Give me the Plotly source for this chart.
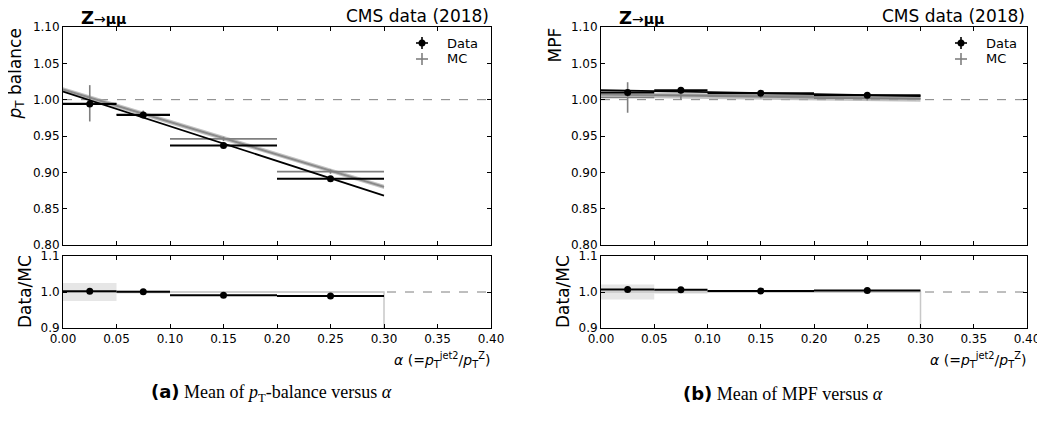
import plotly.graph_objects as go

# ---------------- data ----------------
bin_centers = [0.025, 0.075, 0.15, 0.25]
bin_halfwidths = [0.025, 0.025, 0.05, 0.05]
fit_x = [0.0, 0.3]

# pT balance panel
data_pt = [0.994, 0.979, 0.937, 0.891]
data_pt_err = [0.003, 0.002, 0.002, 0.002]
mc_pt = [0.995, 0.980, 0.946, 0.901]
mc_pt_err = [0.025, 0.005, 0.003, 0.003]
data_pt_fit = [1.011, 0.868]
mc_pt_fit = [1.014, 0.880]
mc_pt_fit_unc = [0.003, 0.003]
ratio_pt = [1.002, 1.001, 0.991, 0.989]
ratio_pt_err = [0.002, 0.002, 0.001, 0.001]
ratio_pt_band = [0.025, 0.005, 0.002, 0.002]

# MPF panel
data_mpf = [1.010, 1.013, 1.009, 1.006]
data_mpf_err = [0.002, 0.002, 0.001, 0.001]
mc_mpf = [1.003, 1.006, 1.005, 1.002]
mc_mpf_err = [0.021, 0.006, 0.003, 0.003]
data_mpf_fit = [1.013, 1.005]
mc_mpf_fit = [1.007, 1.001]
mc_mpf_fit_unc = [0.004, 0.004]
ratio_mpf = [1.007, 1.006, 1.003, 1.004]
ratio_mpf_err = [0.002, 0.002, 0.001, 0.001]
ratio_mpf_band = [0.021, 0.005, 0.002, 0.002]

x_ticks = [0.0, 0.05, 0.10, 0.15, 0.20, 0.25, 0.30, 0.35, 0.40]
y_ticks_top = [0.80, 0.85, 0.90, 0.95, 1.00, 1.05, 1.10]
y_ticks_ratio = [0.9, 1.0, 1.1]

# ---------------- layout helpers ----------------
# the page body has an 8px margin, so the figure is drawn 8px in from the window corner
OFF = 8
W, H = 1045 - OFF, 431 - OFF
def px(x):
    return (x - OFF) / W
def py(y):
    return 1 - (y - OFF) / H

FONT = "DejaVu Sans"
BLACK = "#000000"
GRAY = "#7f7f7f"

fig = go.Figure()

panels = [
    dict(ax="", rax="2", data=data_pt, derr=data_pt_err, mc=mc_pt, mcerr=mc_pt_err,
         dfit=data_pt_fit, mfit=mc_pt_fit, munc=mc_pt_fit_unc,
         ratio=ratio_pt, rerr=ratio_pt_err, band=ratio_pt_band),
    dict(ax="3", rax="4", data=data_mpf, derr=data_mpf_err, mc=mc_mpf, mcerr=mc_mpf_err,
         dfit=data_mpf_fit, mfit=mc_mpf_fit, munc=mc_mpf_fit_unc,
         ratio=ratio_mpf, rerr=ratio_mpf_err, band=ratio_mpf_band),
]

for p in panels:
    xa, ya = "x" + p["ax"], "y" + p["ax"]
    xr, yr = "x" + p["rax"], "y" + p["rax"]
    # MC fit band
    bx = fit_x + fit_x[::-1]
    by = [f + u for f, u in zip(p["mfit"], p["munc"])] + \
         [f - u for f, u in zip(p["mfit"][::-1], p["munc"][::-1])]
    fig.add_trace(go.Scatter(x=bx, y=by, fill="toself", fillcolor="rgba(170,170,170,0.7)",
                             line=dict(width=0), mode="lines", xaxis=xa, yaxis=ya,
                             showlegend=False, hoverinfo="skip"))
    fig.add_trace(go.Scatter(x=fit_x, y=p["mfit"], mode="lines",
                             line=dict(color="#8a8a8a", width=2),
                             xaxis=xa, yaxis=ya, showlegend=False))
    # MC points (error bars only)
    fig.add_trace(go.Scatter(x=bin_centers, y=p["mc"], mode="markers",
                             marker=dict(size=1, color="rgba(0,0,0,0)"),
                             error_x=dict(type="data", array=bin_halfwidths, color=GRAY,
                                          thickness=1.6, width=0),
                             error_y=dict(type="data", array=p["mcerr"], color=GRAY,
                                          thickness=1.6, width=0),
                             xaxis=xa, yaxis=ya, showlegend=False))
    # Data fit
    fig.add_trace(go.Scatter(x=fit_x, y=p["dfit"], mode="lines",
                             line=dict(color=BLACK, width=1.8),
                             xaxis=xa, yaxis=ya, showlegend=False))
    # Data points
    fig.add_trace(go.Scatter(x=bin_centers, y=p["data"], mode="markers",
                             marker=dict(size=7, color=BLACK),
                             error_x=dict(type="data", array=bin_halfwidths, color=BLACK,
                                          thickness=2, width=0),
                             error_y=dict(type="data", array=p["derr"], color=BLACK,
                                          thickness=2, width=0),
                             xaxis=xa, yaxis=ya, showlegend=False))
    # Ratio: MC uncertainty band
    fig.add_trace(go.Bar(x=bin_centers, y=[2 * b for b in p["band"]],
                         base=[1 - b for b in p["band"]],
                         width=[2 * h for h in bin_halfwidths],
                         marker=dict(color="#e6e6e6", line=dict(width=0)),
                         xaxis=xr, yaxis=yr, showlegend=False, hoverinfo="skip"))
    # step outline at 1
    edges = [c - h for c, h in zip(bin_centers, bin_halfwidths)] + \
            [bin_centers[-1] + bin_halfwidths[-1]]
    fig.add_trace(go.Scatter(x=edges + [edges[-1]], y=[1.0] * len(edges) + [y_ticks_ratio[0]],
                             mode="lines", line=dict(color="#c8c8c8", width=1.5),
                             xaxis=xr, yaxis=yr, showlegend=False))
    # ratio points
    fig.add_trace(go.Scatter(x=bin_centers, y=p["ratio"], mode="markers",
                             marker=dict(size=7, color=BLACK),
                             error_x=dict(type="data", array=bin_halfwidths, color=BLACK,
                                          thickness=2, width=0),
                             error_y=dict(type="data", array=p["rerr"], color=BLACK,
                                          thickness=2, width=0),
                             xaxis=xr, yaxis=yr, showlegend=False))

eps = 1e-6
common = dict(showline=True, linecolor=BLACK, linewidth=1, mirror="ticks",
              ticks="inside", ticklen=4, tickcolor=BLACK, tickwidth=1,
              showgrid=False, zeroline=False, automargin=False,
              tickfont=dict(family=FONT, size=12, color=BLACK))

xdom = {"L": [px(63), px(491)], "R": [px(601), px(1027)]}
ydom_top = [py(245), py(27)]
ydom_rat = [py(328), py(256)]

layout_axes = {}
for name, key, dom, anchor, showlab in [
    ("xaxis", "L", ydom_top, "y", False), ("xaxis2", "L", ydom_rat, "y2", True),
    ("xaxis3", "R", ydom_top, "y3", False), ("xaxis4", "R", ydom_rat, "y4", True)]:
    layout_axes[name] = dict(common, domain=xdom[key], anchor=anchor,
                             range=[0 - eps, 0.4 + eps], tickvals=x_ticks,
                             ticktext=[f"{v:.2f}" for v in x_ticks],
                             showticklabels=showlab)
for name, key, dom, anchor, ticks, fmt in [
    ("yaxis", "L", ydom_top, "x", y_ticks_top, "{:.2f}"),
    ("yaxis2", "L", ydom_rat, "x2", y_ticks_ratio, "{:.1f}"),
    ("yaxis3", "R", ydom_top, "x3", y_ticks_top, "{:.2f}"),
    ("yaxis4", "R", ydom_rat, "x4", y_ticks_ratio, "{:.1f}")]:
    layout_axes[name] = dict(common, domain=dom, anchor=anchor,
                             range=[ticks[0] - eps, ticks[-1] + eps], tickvals=ticks,
                             ticktext=[fmt.format(v) for v in ticks])

shapes = []
for xr_, yr_ in [("x", "y"), ("x3", "y3"), ("x2", "y2"), ("x4", "y4")]:
    shapes.append(dict(type="line", xref=xr_ + " domain", yref=yr_, x0=0, x1=1, y0=1.0, y1=1.0,
                       line=dict(color=GRAY, width=1, dash="dash"), layer="below"))

annotations = []
def ann(text, x, y, size, xanchor="center", yanchor="middle", angle=0, family=FONT, color=BLACK):
    annotations.append(dict(text=text, x=px(x), y=py(y), xref="paper", yref="paper",
                            xanchor=xanchor, yanchor=yanchor, textangle=angle, borderpad=0,
                            showarrow=False, font=dict(family=family, size=size, color=color)))

# legend (drawn manually so the error-bar symbol matches)
for sx, tx in [(422, 446), (961, 985)]:
    for yy, col, dot in [(43, BLACK, True), (59, GRAY, False)]:
        shapes.append(dict(type="line", xref="paper", yref="paper", x0=px(sx - 6), x1=px(sx + 6),
                           y0=py(yy), y1=py(yy), line=dict(color=col, width=1.6)))
        shapes.append(dict(type="line", xref="paper", yref="paper", x0=px(sx), x1=px(sx),
                           y0=py(yy - 6), y1=py(yy + 6), line=dict(color=col, width=1.6)))
        if dot:
            shapes.append(dict(type="circle", xref="paper", yref="paper",
                               x0=px(sx - 3.5), x1=px(sx + 3.5), y0=py(yy + 3.5), y1=py(yy - 3.5),
                               fillcolor=col, line=dict(color=col, width=0)))
    ann("Data", tx, 43, 13, xanchor="left")
    ann("MC", tx, 59, 13, xanchor="left")

for x0, x1 in [(63, 491), (601, 1027)]:
    ann("<b>Z</b><span style='font-size:14px'>→<b>μμ</b></span>", x0 + 17, 17, 18, xanchor="left")
    ann("CMS data (2018)", x1 - 1, 16.5, 17, xanchor="right")
    ann("<i>α</i> (=<i>p</i><sub>T</sub><sup>jet2</sup>/<i>p</i><sub>T</sub><sup>Z</sup>)",
        x1, 360, 14, xanchor="right")

ann("<i>p</i><sub>T</sub> balance", 16, 28, 17, yanchor="top", angle=-90)
ann("MPF", 555, 27, 17, yanchor="top", angle=-90)
ann("Data/MC", 25, 292, 17, angle=-90)
ann("Data/MC", 563, 292, 17, angle=-90)

ann("<span style='font-family:DejaVu Sans'><b>(a)</b></span> Mean of <i>p</i><sub>T</sub>-balance versus <i>α</i>",
    271, 393, 18, family="Liberation Serif")
ann("<span style='font-family:DejaVu Sans'><b>(b)</b></span> Mean of MPF versus <i>α</i>",
    783, 393, 18, family="Liberation Serif")

fig.update_layout(width=W, height=H, margin=dict(l=0, r=0, t=0, b=0),
                  paper_bgcolor="white", plot_bgcolor="white", barmode="overlay",
                  showlegend=False, shapes=shapes, annotations=annotations, **layout_axes)

fig.write_html("out.html")
